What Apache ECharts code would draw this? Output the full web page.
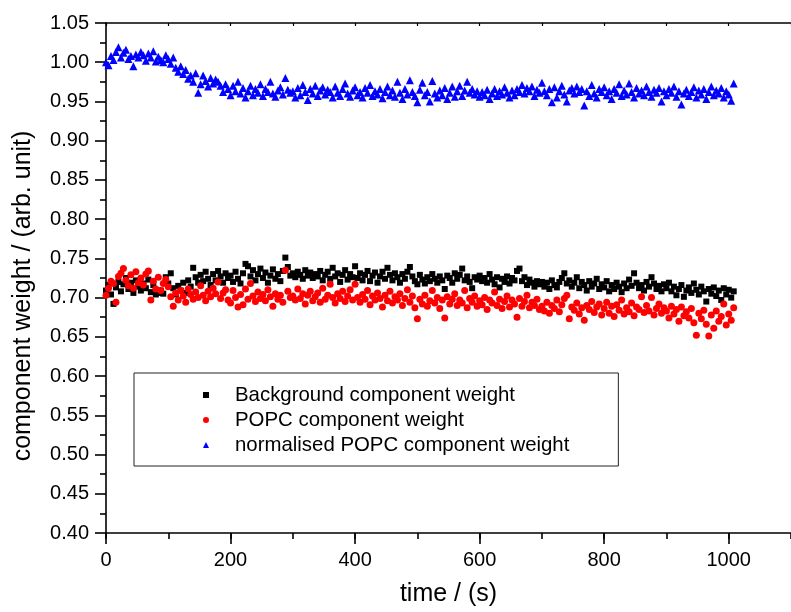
<!DOCTYPE html>
<html>
<head>
<meta charset="utf-8">
<script src="https://cdn.jsdelivr.net/npm/echarts@6/dist/echarts.min.js"></script>
<style>
  html, body { margin: 0; padding: 0; background: #fff; }
  #chart { width: 791px; height: 612px; }
</style>
</head>
<body>
<div id="chart"></div>
<script>
// Sampling: one spectrum every 4 s, starting at t = 0 s
const TIME_STEP = 4;

// Background component weight (arb. unit)
const background = [
  0.709, 0.716, 0.704, 0.692, 0.713, 0.720, 0.708, 0.717, 0.725, 0.711, 0.719, 0.706, 0.722, 0.714, 0.709, 0.718, 0.712, 0.723, 0.707, 0.716, 0.704, 0.706, 0.709, 0.705, 0.726,
  0.718, 0.731, 0.712, 0.704, 0.715, 0.709, 0.719, 0.706, 0.722, 0.714, 0.738, 0.726, 0.719, 0.729, 0.721, 0.733, 0.724, 0.716, 0.730, 0.722, 0.734, 0.727, 0.719, 0.731, 0.725,
  0.728, 0.720, 0.733, 0.724, 0.718, 0.731, 0.743, 0.740, 0.727, 0.735, 0.722, 0.730, 0.737, 0.725, 0.732, 0.719, 0.728, 0.736, 0.724, 0.730, 0.721, 0.734, 0.751, 0.739, 0.728,
  0.731, 0.726, 0.733, 0.729, 0.724, 0.735, 0.728, 0.732, 0.725, 0.730, 0.727, 0.734, 0.722, 0.729, 0.733, 0.724, 0.738, 0.727, 0.731, 0.720, 0.729, 0.735, 0.723, 0.730, 0.726,
  0.740, 0.725, 0.731, 0.722, 0.729, 0.734, 0.721, 0.728, 0.732, 0.719, 0.727, 0.733, 0.724, 0.738, 0.729, 0.722, 0.731, 0.726, 0.719, 0.730, 0.724, 0.733, 0.739, 0.727, 0.721,
  0.717, 0.729, 0.723, 0.718, 0.726, 0.721, 0.730, 0.724, 0.719, 0.727, 0.722, 0.711, 0.728, 0.725, 0.719, 0.731, 0.724, 0.729, 0.737, 0.722, 0.727, 0.720, 0.712, 0.726, 0.723,
  0.728, 0.721, 0.725, 0.719, 0.730, 0.723, 0.717, 0.726, 0.713, 0.724, 0.720, 0.727, 0.718, 0.725, 0.722, 0.734, 0.737, 0.721, 0.726, 0.716, 0.723, 0.719, 0.714, 0.721, 0.717,
  0.720, 0.714, 0.719, 0.711, 0.722, 0.716, 0.713, 0.720, 0.725, 0.731, 0.718, 0.722, 0.714, 0.719, 0.726, 0.712, 0.720, 0.716, 0.709, 0.721, 0.714, 0.718, 0.724, 0.711, 0.717,
  0.713, 0.721, 0.708, 0.716, 0.711, 0.719, 0.714, 0.707, 0.718, 0.712, 0.723, 0.715, 0.731, 0.719, 0.712, 0.716, 0.709, 0.720, 0.714, 0.726, 0.718, 0.711, 0.715, 0.708, 0.717,
  0.712, 0.719, 0.708, 0.714, 0.703, 0.711, 0.716, 0.701, 0.709, 0.713, 0.706, 0.718, 0.710, 0.704, 0.714, 0.708, 0.695, 0.711, 0.705, 0.713, 0.702, 0.709, 0.697, 0.712, 0.704,
  0.710, 0.700, 0.708
];

// POPC component weight (arb. unit)
const popc = [
  0.703, 0.712, 0.721, 0.718, 0.694, 0.727, 0.731, 0.737, 0.722, 0.715, 0.729, 0.712, 0.733, 0.719, 0.725, 0.716, 0.730, 0.734, 0.697, 0.721, 0.711, 0.726, 0.709, 0.718, 0.723,
  0.714, 0.701, 0.689, 0.706, 0.697, 0.709, 0.702, 0.694, 0.711, 0.704, 0.698, 0.707, 0.700, 0.715, 0.703, 0.696, 0.708, 0.701, 0.712, 0.705, 0.720, 0.699, 0.706, 0.710, 0.697,
  0.693, 0.709, 0.700, 0.688, 0.704, 0.691, 0.711, 0.698, 0.718, 0.702, 0.695, 0.707, 0.699, 0.704, 0.696, 0.710, 0.701, 0.689, 0.705, 0.698, 0.703, 0.694, 0.735, 0.708, 0.700,
  0.702, 0.697, 0.711, 0.699, 0.705, 0.692, 0.703, 0.708, 0.696, 0.701, 0.706, 0.694, 0.712, 0.698, 0.703, 0.717, 0.700, 0.693, 0.705, 0.699, 0.708, 0.695, 0.702, 0.710, 0.697,
  0.717, 0.700, 0.694, 0.704, 0.698, 0.709, 0.691, 0.702, 0.697, 0.706, 0.699, 0.688, 0.703, 0.696, 0.708, 0.693, 0.701, 0.697, 0.705, 0.690, 0.699, 0.710, 0.694, 0.702, 0.687,
  0.673, 0.698, 0.692, 0.703, 0.689, 0.696, 0.709, 0.693, 0.700, 0.686, 0.697, 0.674, 0.701, 0.692, 0.698, 0.705, 0.690, 0.697, 0.693, 0.709, 0.687, 0.699, 0.694, 0.702, 0.689,
  0.696, 0.691, 0.700, 0.685, 0.697, 0.693, 0.707, 0.690, 0.698, 0.686, 0.695, 0.702, 0.688, 0.697, 0.692, 0.675, 0.699, 0.689, 0.695, 0.703, 0.687, 0.694, 0.690, 0.698, 0.685,
  0.689, 0.683, 0.694, 0.680, 0.690, 0.686, 0.697, 0.682, 0.691, 0.699, 0.703, 0.673, 0.688, 0.684, 0.693, 0.679, 0.687, 0.671, 0.690, 0.685, 0.695, 0.681, 0.688, 0.692, 0.678,
  0.686, 0.694, 0.680, 0.689, 0.676, 0.691, 0.684, 0.697, 0.679, 0.687, 0.682, 0.693, 0.677, 0.688, 0.685, 0.701, 0.681, 0.690, 0.683, 0.700, 0.678, 0.686, 0.692, 0.680, 0.687,
  0.683, 0.674, 0.689, 0.679, 0.685, 0.670, 0.688, 0.677, 0.682, 0.674, 0.686, 0.668, 0.652, 0.680, 0.673, 0.684, 0.666, 0.651, 0.678, 0.661, 0.683, 0.670, 0.676, 0.692, 0.665,
  0.679, 0.671, 0.687
];

// normalised POPC component weight (arb. unit)
const normalised = [
  1.000, 0.996, 1.008, 1.003, 1.013, 1.019, 1.006, 1.012, 1.016, 1.004, 1.008, 0.995, 1.010, 1.006, 1.013, 1.009, 1.002, 1.011, 1.006, 1.014, 1.001, 1.007, 1.003, 1.000, 1.009,
  1.004, 0.998, 1.006, 0.993, 0.988, 0.995, 0.985, 0.990, 0.979, 0.983, 0.975, 0.986, 0.961, 0.972, 0.983, 0.976, 0.969, 0.980, 0.973, 0.978, 0.975, 0.970, 0.962, 0.972, 0.966,
  0.958, 0.970, 0.963, 0.975, 0.960, 0.967, 0.955, 0.963, 0.970, 0.958, 0.966, 0.961, 0.972, 0.957, 0.966, 0.962, 0.975, 0.960, 0.956, 0.964, 0.968, 0.959, 0.980, 0.965, 0.961,
  0.963, 0.955, 0.967, 0.958, 0.971, 0.962, 0.952, 0.966, 0.960, 0.970, 0.957, 0.964, 0.968, 0.959, 0.965, 0.962, 0.955, 0.969, 0.961, 0.957, 0.966, 0.973, 0.960, 0.956, 0.964,
  0.968, 0.958, 0.962, 0.955, 0.967, 0.961, 0.971, 0.957, 0.963, 0.959, 0.966, 0.954, 0.962, 0.969, 0.958, 0.964, 0.956, 0.975, 0.961, 0.953, 0.966, 0.959, 0.977, 0.962, 0.957,
  0.949, 0.965, 0.974, 0.958, 0.962, 0.950, 0.976, 0.960, 0.955, 0.964, 0.958, 0.967, 0.953, 0.961, 0.969, 0.956, 0.963, 0.970, 0.957, 0.964, 0.975, 0.961, 0.966, 0.959, 0.963,
  0.956, 0.962, 0.958, 0.965, 0.953, 0.960, 0.966, 0.957, 0.963, 0.959, 0.968, 0.961, 0.955, 0.964, 0.958, 0.966, 0.962, 0.971, 0.960, 0.967, 0.963, 0.969, 0.957, 0.965, 0.961,
  0.974, 0.963, 0.958, 0.966, 0.949, 0.968, 0.955, 0.963, 0.970, 0.959, 0.950, 0.964, 0.967, 0.960, 0.969, 0.962, 0.966, 0.945, 0.963, 0.957, 0.971, 0.960, 0.955, 0.966, 0.962,
  0.968, 0.958, 0.963, 0.953, 0.966, 0.961, 0.972, 0.957, 0.964, 0.959, 0.973, 0.962, 0.955, 0.967, 0.960, 0.964, 0.958, 0.969, 0.962, 0.956, 0.965, 0.961, 0.967, 0.950, 0.963,
  0.958, 0.966, 0.961, 0.969, 0.956, 0.963, 0.946, 0.960, 0.965, 0.957, 0.962, 0.968, 0.955, 0.964, 0.959, 0.966, 0.953, 0.962, 0.969, 0.958, 0.964, 0.960, 0.967, 0.955, 0.963,
  0.959, 0.951, 0.973
];

const seriesNames = [
  'Background component weight',
  'POPC component weight',
  'normalised POPC component weight'
];

const FONT = '"Liberation Sans", Arial, Helvetica, sans-serif';

function toPoints(values) {
  return values.map((v, i) => [i * TIME_STEP, v]);
}

const chart = echarts.init(document.getElementById('chart'), null, { renderer: 'canvas' });

const axisLine = { show: true, lineStyle: { color: '#000', width: 1.6 } };

chart.setOption({
  backgroundColor: '#fff',
  animation: false,
  grid: { left: 106, top: 23, right: -10, bottom: 78, containLabel: false },
  legend: {
    orient: 'vertical',
    left: 134,
    top: 373,
    padding: [12, 49, 11, 69],
    itemWidth: 6,
    itemHeight: 6,
    itemGap: 5,
    borderColor: '#222',
    borderWidth: 1,
    backgroundColor: '#fff',
    selectedMode: false,
    itemStyle: { opacity: 1 },
    textStyle: {
      fontFamily: FONT, fontSize: 20.4, color: '#000', lineHeight: 20,
      padding: [0, 0, 0, 21]
    },
    data: seriesNames
  },
  xAxis: [
    {
      // main time axis: labels and major ticks every 200 s
      type: 'value', min: 0, max: 1100, interval: 200, position: 'bottom',
      name: 'time / (s)', nameLocation: 'middle', nameGap: 49,
      nameTextStyle: { fontFamily: FONT, fontSize: 25, color: '#000' },
      axisLine: axisLine,
      axisTick: { show: true, inside: false, length: 11, lineStyle: { color: '#000', width: 1.6 } },
      axisLabel: {
        fontFamily: FONT, fontSize: 20, color: '#000', margin: 17, showMaxLabel: false,
        formatter: (v) => String(v)
      },
      splitLine: { show: false }
    },
    {
      // minor ticks every 100 s along the bottom
      type: 'value', min: 0, max: 1100, interval: 100, position: 'bottom',
      axisLine: { show: false },
      axisTick: { show: true, inside: false, length: 6, lineStyle: { color: '#000', width: 1.6 } },
      axisLabel: { show: false },
      splitLine: { show: false }
    },
    {
      // top frame with short inward ticks
      type: 'value', min: 0, max: 1100, interval: 100, position: 'top',
      axisLine: axisLine,
      axisTick: { show: true, inside: true, length: 3, lineStyle: { color: '#000', width: 1.2 } },
      axisLabel: { show: false },
      splitLine: { show: false }
    }
  ],
  yAxis: {
    type: 'value', min: 0.40, max: 1.05, interval: 0.05,
    name: 'component weight / (arb. unit)', nameLocation: 'middle', nameGap: 70,
    nameTextStyle: { fontFamily: FONT, fontSize: 25, color: '#000', padding: [0, 36, 0, 0] },
    axisLine: axisLine,
    axisTick: { show: true, inside: false, length: 11, lineStyle: { color: '#000', width: 1.6 } },
    minorTick: { show: true, splitNumber: 2, length: 6, lineStyle: { color: '#000', width: 1.6 } },
    axisLabel: {
      fontFamily: FONT, fontSize: 20, color: '#000', margin: 17,
      formatter: (v) => v.toFixed(2)
    },
    splitLine: { show: false }
  },
  series: [
    {
      name: seriesNames[0], type: 'scatter', xAxisIndex: 0,
      symbol: 'rect', symbolSize: 6,
      itemStyle: { color: '#000000', opacity: 1 },
      data: toPoints(background)
    },
    {
      name: seriesNames[1], type: 'scatter', xAxisIndex: 0,
      symbol: 'circle', symbolSize: 7,
      itemStyle: { color: '#ff0000', opacity: 1 },
      data: toPoints(popc)
    },
    {
      name: seriesNames[2], type: 'scatter', xAxisIndex: 0,
      symbol: 'triangle', symbolSize: 8,
      itemStyle: { color: '#0000ff', opacity: 1 },
      data: toPoints(normalised)
    }
  ]
});
</script>
</body>
</html>
